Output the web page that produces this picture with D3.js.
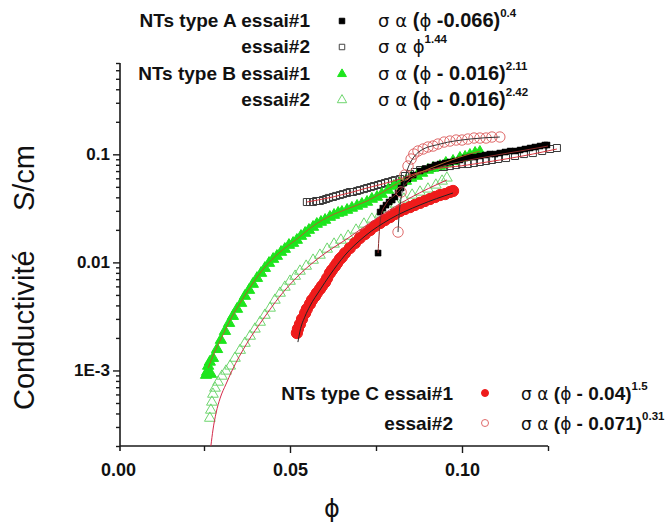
<!DOCTYPE html>
<html><head><meta charset="utf-8">
<script src="https://cdn.jsdelivr.net/npm/d3@7"></script>
<style>body{margin:0;background:#fff}svg{display:block}</style>
</head><body>
<svg id="c" width="671" height="526"></svg>
<script>
// ---------- DATA (phi, sigma in S/cm) ----------
// NTs type A essai#1 (filled squares)
const A1_phi = [.0756,.0762,.0770,.0779,.0788,.0797,.0805,.0814,.0823,.0831,.0843,.0858,.0878,.0892,.0907,.0922,.0936,.0951,.0965,.0980,.0994,.1009,.1023,.1038,.1052,.1067,.1081,.1096,.1110,.1125,.1140,.1154,.1169,.1183,.1198,.1212,.1227,.1241,.1247];
const A1_sig = [.0122,.0292,.0318,.0339,.0362,.0378,.0403,.0439,.0488,.0543,.0591,.0643,.0701,.0731,.0763,.0796,.0813,.0831,.0849,.0867,.0886,.0924,.0944,.0944,.0965,.0985,.1006,.1006,.1028,.1050,.1073,.1073,.1096,.1120,.1144,.1168,.1193,.1219,.1219];
// NTs type A essai#2 (open squares)
const A2_phi = [.0549,.0558,.0567,.0576,.0587,.0596,.0605,.0613,.0625,.0634,.0645,.0654,.0666,.0674,.0683,.0695,.0703,.0715,.0724,.0735,.0744,.0756,.0765,.0776,.0785,.0797,.0805,.0820,.0834,.0849,.0863,.0878,.0895,.0913,.0930,.0948,.0965,.0983,.1000,.1017,.1035,.1052,.1070,.1087,.1105,.1128,.1154,.1180,.1206,.1233,.1256,.1276];
const A2_sig = [.0362,.0362,.0362,.0370,.0370,.0378,.0386,.0395,.0403,.0412,.0420,.0429,.0439,.0448,.0448,.0458,.0467,.0477,.0488,.0498,.0509,.0520,.0531,.0543,.0554,.0566,.0578,.0591,.0630,.0658,.0686,.0716,.0731,.0747,.0763,.0763,.0779,.0796,.0813,.0813,.0831,.0849,.0867,.0886,.0905,.0924,.0965,.1006,.1028,.1073,.1120,.1144];
// NTs type B essai#1 (filled triangles)
const B1_phi = [.0256,.0259,.0262,.0267,.0270,.0276,.0288,.0299,.0311,.0323,.0334,.0346,.0358,.0369,.0381,.0392,.0404,.0416,.0427,.0439,.0451,.0462,.0474,.0485,.0497,.0509,.0520,.0532,.0544,.0555,.0567,.0578,.0590,.0602,.0616,.0628,.0640,.0651,.0666,.0680,.0695,.0709,.0724,.0738,.0753,.0767,.0785,.0802,.0820,.0837,.0852,.0869,.0884,.0901,.0916,.0936,.0953,.0974,.0994,.1009,.1023,.1038,.1052];
const B1_sig = [.000906,.000968,.00110,.00120,.000926,.00130,.00157,.00191,.00231,.00274,.00318,.00370,.00420,.00488,.00554,.00630,.00715,.00796,.00885,.00985,.01073,.01144,.01246,.01328,.01446,.01509,.01609,.01752,.01869,.01992,.02124,.02264,.02363,.02466,.02628,.02743,.02862,.02924,.0305,.0319,.0333,.0347,.0362,.0386,.0403,.0429,.0468,.0509,.0543,.0566,.0604,.0630,.0672,.0716,.0747,.0779,.0831,.0867,.0924,.0944,.0985,.1028,.1050];
// NTs type B essai#2 (open triangles)
const B2_phi = [.0267,.0270,.0273,.0276,.0282,.0291,.0302,.0314,.0326,.0340,.0355,.0369,.0384,.0398,.0413,.0427,.0442,.0456,.0471,.0485,.0500,.0515,.0529,.0547,.0567,.0587,.0608,.0628,.0648,.0669,.0692,.0715,.0738,.0762,.0785,.0808,.0831,.0855,.0878,.0901,.0924,.0942,.0956];
const B2_sig = [.000362,.000430,.000510,.000604,.000687,.000781,.000887,.000988,.00110,.00130,.00154,.00179,.00208,.00242,.00280,.00325,.00378,.00448,.00520,.00591,.00671,.00746,.00831,.00924,.01050,.01168,.01328,.01478,.01609,.01752,.01992,.02264,.02519,.02802,.0312,.0347,.0386,.0420,.0448,.0478,.0520,.0566,.0604];
// NTs type C essai#1 (filled circles)
const C1_phi = [.0520,.0523,.0529,.0535,.0544,.0549,.0558,.0564,.0573,.0578,.0587,.0593,.0602,.0608,.0616,.0622,.0631,.0637,.0645,.0651,.0660,.0674,.0689,.0703,.0718,.0733,.0747,.0762,.0776,.0791,.0805,.0820,.0834,.0849,.0863,.0878,.0892,.0907,.0922,.0936,.0951,.0965,.0974];
const C1_sig = [.00222,.00242,.00268,.00299,.00340,.00370,.00412,.00448,.00488,.00520,.00566,.00604,.00657,.00715,.00796,.00849,.00924,.00985,.01073,.01120,.01220,.01357,.01510,.01679,.01829,.01992,.02168,.02313,.02466,.02628,.02802,.02987,.0312,.0325,.0340,.0355,.0370,.0386,.0403,.0420,.0429,.0448,.0458];
// NTs type C essai#2 (open circles)
const C2_phi = [.0814,.0823,.0834,.0843,.0852,.0860,.0872,.0887,.0901,.0916,.0930,.0948,.0965,.0983,.1000,.1017,.1035,.1052,.1070,.1087,.1110];
const C2_sig = [.01908,.0448,.0644,.0779,.0905,.1006,.1073,.1120,.1168,.1193,.1245,.1299,.1327,.1356,.1356,.1385,.1415,.1415,.1415,.1446,.1446];

// fit curves
const fitA1_phi = [.0756,.0759,.0765,.0779,.0805,.0849,.0936,.1052,.1169,.1250];
const fitA1_sig = [.0122,.0179,.02743,.0347,.0420,.0579,.0763,.0924,.1073,.1193];
const fitA2_phi = [.0549,.0625,.0724,.0820,.0878,.1015,.1110,.1206,.1276];
const fitA2_sig = [.0362,.0403,.0488,.0591,.0686,.0796,.0886,.1006,.1120];
const fitB1_phi = [.0262,.0276,.0302,.0326,.0375,.0422,.0471,.0520,.0567,.0616,.0666,.0724,.0820,.0916,.0994,.1052];
const fitB1_sig = [.001054,.00136,.00204,.00292,.00531,.00867,.01246,.01644,.02168,.02685,.0312,.0370,.0554,.0763,.0944,.1073];
const fitB2_phi = [.0270,.0276,.0285,.0297,.0314,.0331,.0375,.0422,.0471,.0529,.0587,.0669,.0762,.0849,.0956];
const fitB2_sig = [.000200,.000281,.000403,.000555,.000748,.000988,.00179,.00299,.00488,.00779,.0112,.01679,.02685,.0395,.0579];
const fitC1_phi = [.0523,.0529,.0544,.0558,.0587,.0616,.0660,.0718,.0791,.0878,.0974];
const fitC1_sig = [.00183,.00231,.00318,.00394,.00554,.00763,.01168,.01752,.02519,.0340,.0439];
const fitC2_phi = [.0814,.0817,.0823,.0831,.0843,.0858,.0878,.0936,.1023,.1110];
const fitC2_sig = [.01908,.02743,.0395,.0543,.0747,.0924,.1073,.1245,.1385,.1446];

// axis ticks
const xTicks = [0, 0.05, 0.10];
const xTickLabels = ["0.00", "0.05", "0.10"];
const xMinorTicks = [0.025, 0.075, 0.125];
const yTicks = [1e-3, 1e-2, 1e-1];
const yTickLabels = ["1E-3", "0.01", "0.1"];
const xTitle = "ϕ";
const yTitleA = "Conductivité", yTitleB = "S/cm";

// legends
const legTopLabels = ["NTs type A essai#1", "essai#2", "NTs type B essai#1", "essai#2"];
const legTopBase = ["(ϕ -0.066)", "ϕ", "(ϕ - 0.016)", "(ϕ - 0.016)"];
const legTopExp = ["0.4", "1.44", "2.11", "2.42"];
const legBotLabels = ["NTs type C essai#1", "essai#2"];
const legBotBase = ["(ϕ - 0.04)", "(ϕ - 0.071)"];
const legBotExp = ["1.5", "0.31"];

// ---------- DRAW ----------
const FONT = "'Liberation Sans', Arial, Helvetica, sans-serif";
const GFONT = "'DejaVu Sans', 'Liberation Sans', sans-serif";
const svg = d3.select('#c').style('font-family', FONT);
const x = d3.scaleLinear().domain([0, 0.125]).range([118, 548]);
const y = d3.scaleLog().domain([2e-4, 0.7]).range([446, 63]);
const AX = 120; // y axis position
const AXCOL = '#1a1a1a';

const pts = (p, s) => p.map((v, i) => [v, s[i]]).filter(d => d[1] !== undefined);

// minor y ticks
const yMinor = [];
[1e-4, 1e-3, 1e-2, 1e-1].forEach(d => { for (let k = 2; k <= 9; k++) { const v = k * d; if (v >= 2e-4 && v <= 0.7001) yMinor.push(v); } });

const gy = svg.append('g').attr('transform', `translate(${AX},0)`);
gy.call(d3.axisLeft(y).tickValues(yMinor).tickSize(4).tickFormat('').tickSizeOuter(0));
gy.select('.domain').remove();
const gy2 = svg.append('g').attr('transform', `translate(${AX},0)`);
gy2.call(d3.axisLeft(y).tickValues(yTicks).tickSize(7).tickPadding(3).tickSizeOuter(0)
  .tickFormat((d, i) => yTickLabels[i]));
gy2.select('.domain').remove();
svg.append('line').attr('x1', AX).attr('x2', AX).attr('y1', y(0.7)).attr('y2', 451)
  .attr('stroke', AXCOL).attr('stroke-width', 1.6);
[gy, gy2].forEach(g => g.selectAll('.tick line').attr('stroke', AXCOL).attr('stroke-width', 1.4));
gy2.selectAll('.tick text').attr('font-family', FONT).attr('font-weight', 'bold')
  .attr('font-size', 17).attr('fill', '#111');

const gx = svg.append('g').attr('transform', 'translate(0,446)');
gx.call(d3.axisBottom(x).tickValues(xTicks).tickSize(7).tickPadding(10).tickSizeOuter(0)
  .tickFormat((d, i) => xTickLabels[i]));
gx.select('.domain').remove();
gx.selectAll('.tick').filter(d => d === 0).select('line').remove();
const gxm = svg.append('g').attr('transform', 'translate(0,446)');
gxm.call(d3.axisBottom(x).tickValues(xMinorTicks).tickSize(5).tickFormat('').tickSizeOuter(0));
gxm.select('.domain').remove();
[gx, gxm].forEach(g => g.selectAll('.tick line').attr('stroke', AXCOL).attr('stroke-width', 1.4));
svg.append('line').attr('x1', AX).attr('x2', x(0.125)).attr('y1', 446).attr('y2', 446)
  .attr('stroke', AXCOL).attr('stroke-width', 1.6);
gx.selectAll('.tick text').attr('font-family', FONT).attr('font-weight', 'bold')
  .attr('font-size', 18).attr('fill', '#111');

// axis titles
svg.append('text').attr('transform', 'translate(34,410) rotate(-90)')
  .attr('font-size', 29).attr('fill', '#111').text(yTitleA);
svg.append('text').attr('transform', 'translate(34,145) rotate(-90)').attr('text-anchor', 'end')
  .attr('font-size', 29).attr('fill', '#111').text(yTitleB);
svg.append('text').attr('x', 332).attr('y', 517).attr('text-anchor', 'middle')
  .attr('font-family', GFONT).attr('font-size', 24).attr('fill', '#111').text(xTitle);

// series
const sym = (type, size) => d3.symbol().type(type).size(size)();
function drawSym(data, type, size, fill, stroke, sw) {
  svg.append('g').selectAll('path').data(data).join('path')
    .attr('transform', d => `translate(${x(d[0])},${y(d[1])})`)
    .attr('d', sym(type, size))
    .attr('fill', fill).attr('stroke', stroke).attr('stroke-width', sw || 1);
}
const GREEN = '#1de51d', GREEN2 = '#6fd66f', RED = '#ee1b1b', RED2 = '#e06a6a';

drawSym(pts(A2_phi, A2_sig), d3.symbolSquare, 49, 'none', '#3a3a3a', 1);
drawSym(pts(B2_phi, B2_sig), d3.symbolTriangle, 50, 'none', GREEN2, 1);
drawSym(pts(B1_phi, B1_sig), d3.symbolTriangle, 55, GREEN, GREEN, 1);
drawSym(pts(A1_phi, A1_sig), d3.symbolSquare, 36, '#000', '#000', 0.5);
drawSym(pts(C1_phi, C1_sig), d3.symbolCircle, 100, RED, RED, 1);
drawSym(pts(C2_phi, C2_sig), d3.symbolCircle, 85, 'none', RED2, 1);

// fit lines
const line = d3.line().x(d => x(d[0])).y(d => y(d[1])).curve(d3.curveMonotoneX);
function fit(p, s, col, w) {
  svg.append('path').datum(pts(p, s)).attr('d', line).attr('fill', 'none')
    .attr('stroke', col).attr('stroke-width', w || 1);
}
fit(fitA2_phi, fitA2_sig, '#d9363e', 1);
fit(fitA1_phi, fitA1_sig, '#8a2a2a', 1);
fit(fitB1_phi, fitB1_sig, '#b0602a', 1);
fit(fitB2_phi, fitB2_sig, '#d42a4a', 1);
fit(fitC1_phi, fitC1_sig, '#222', 1);
fit(fitC2_phi, fitC2_sig, '#333', 1);

// legends
function formula(g, xp, yb, base, exp, fs) {
  const t = g.append('text').attr('x', xp).attr('y', yb).attr('font-size', fs).attr('fill', '#111');
  t.append('tspan').attr('font-family', GFONT).attr('font-size', fs - 2).text('σ α ');
  const parts = base.split('ϕ');
  if (parts[0]) t.append('tspan').attr('font-weight', 'bold').text(parts[0]);
  t.append('tspan').attr('font-family', GFONT).attr('font-size', fs - 2).text('ϕ');
  if (parts[1]) t.append('tspan').attr('font-weight', 'bold').text(parts[1]);
  t.append('tspan').attr('font-size', 11.5).attr('font-weight', 'bold').attr('dy', -10).text(exp);
}
const lg = svg.append('g');
const topY = [27, 53, 80, 106];
const topSyms = [
  [d3.symbolSquare, 30, '#000', '#000'],
  [d3.symbolSquare, 30, 'none', '#444'],
  [d3.symbolTriangle, 34, GREEN, GREEN],
  [d3.symbolTriangle, 38, 'none', GREEN2]];
legTopLabels.forEach((lab, i) => {
  lg.append('text').attr('x', 310).attr('y', topY[i]).attr('text-anchor', 'end')
    .attr('font-weight', 'bold').attr('font-size', 19).attr('fill', '#111').text(lab);
  const s = topSyms[i];
  lg.append('path').attr('transform', `translate(342,${topY[i] - 6})`).attr('d', sym(s[0], s[1]))
    .attr('fill', s[2]).attr('stroke', s[3]).attr('stroke-width', 1);
  formula(lg, 378, topY[i], legTopBase[i], legTopExp[i], 20);
});
const botY = [400, 430];
const botSyms = [[RED, RED], ['none', RED2]];
legBotLabels.forEach((lab, i) => {
  lg.append('text').attr('x', 453).attr('y', botY[i]).attr('text-anchor', 'end')
    .attr('font-weight', 'bold').attr('font-size', 19).attr('fill', '#111').text(lab);
  lg.append('circle').attr('cx', 485).attr('cy', botY[i] - 7).attr('r', 3.5)
    .attr('fill', botSyms[i][0]).attr('stroke', botSyms[i][1]).attr('stroke-width', 1);
  formula(lg, 521, botY[i], legBotBase[i], legBotExp[i], 19);
});
</script>
</body></html>
